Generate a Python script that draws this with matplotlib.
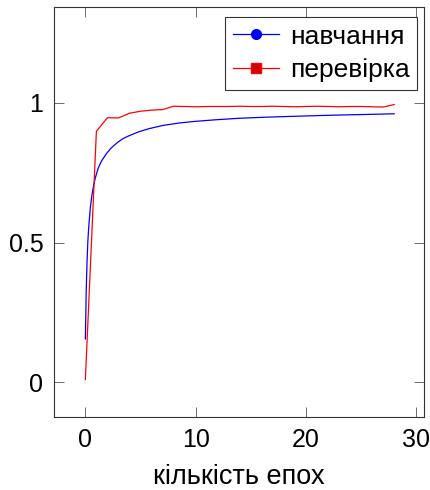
import matplotlib
matplotlib.use("Agg")
import matplotlib.pyplot as plt

plt.rcParams['font.family'] = ['Liberation Sans', 'DejaVu Sans']

# training accuracy (smooth curve, read at irregular points)
train_x = [0, 0.08, 0.15, 0.22, 0.3, 0.45, 0.6, 0.75, 0.9, 1.15, 1.45, 1.9,
           2.35, 2.9, 3.4, 4.0, 4.8, 5.8, 7.0, 8.5, 10.0, 12.0, 14.0, 16.5,
           19.0, 21.5, 23.6, 26.0, 28.0]
train_y = [0.155, 0.33, 0.43, 0.50, 0.553, 0.625, 0.672, 0.705, 0.731, 0.765,
           0.791, 0.818, 0.839, 0.858, 0.872, 0.883, 0.896, 0.908, 0.919,
           0.928, 0.934, 0.940, 0.945, 0.949, 0.952, 0.955, 0.957, 0.959, 0.961]

# validation accuracy per epoch
val_x = list(range(29))
val_y = [0.01, 0.898, 0.947, 0.946, 0.963, 0.970, 0.974, 0.976, 0.988, 0.987,
         0.986, 0.987, 0.987, 0.987, 0.988, 0.987, 0.987, 0.988, 0.987, 0.986,
         0.987, 0.988, 0.987, 0.986, 0.987, 0.987, 0.986, 0.985, 0.994]

fig = plt.figure(figsize=(4.3, 4.9), dpi=100)
ax = fig.add_axes([0.1267, 0.1496, 0.8593, 0.8355])

ax.plot(train_x, train_y, color='blue', lw=0.9)
ax.plot(val_x, val_y, color='red', lw=0.9)

# legend handles with markers, like pgfplots
h1, = ax.plot([], [], color='blue', lw=0.9, marker='o', ms=7)
h2, = ax.plot([], [], color='red', lw=0.9, marker='s', ms=6.5, mfc='#cc0000')
leg = ax.legend([h1, h2], ['навчання', 'перевірка'], loc='upper right',
                fontsize=19, frameon=True, fancybox=False, handlelength=1.75,
                borderpad=0.3, labelspacing=0.35, handletextpad=0.4,
                borderaxespad=0.0, bbox_to_anchor=(0.982, 0.977))
leg.get_frame().set_edgecolor('black')
leg.get_frame().set_linewidth(0.8)

ax.set_xlim(-2.8, 30.7)
ax.set_ylim(-0.123, 1.342)
ax.set_xticks([0, 10, 20, 30])
ax.set_yticks([0, 0.5, 1])
ax.set_yticklabels(['0', '0.5', '1'])
ax.tick_params(direction='in', top=True, right=True, length=7, width=0.6,
               color='#555555', labelsize=18, pad=8)
for s in ax.spines.values():
    s.set_linewidth(0.8)
    s.set_color('#333333')
ax.set_xlabel('кількість епох', fontsize=19.5, labelpad=9)

fig.savefig('out.png', dpi=100)
